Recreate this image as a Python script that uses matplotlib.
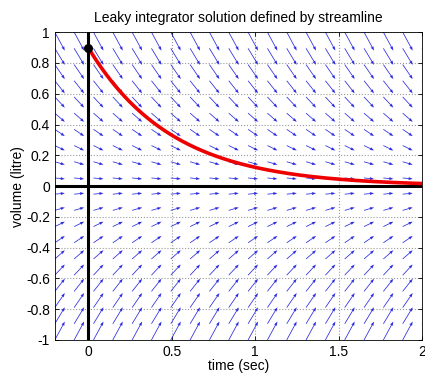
import matplotlib.pyplot as plt
import numpy as np

plt.rcParams["font.family"] = ["Liberation Sans", "DejaVu Sans"]

# leaky integrator dV/dt = -V / tau, started at V0
TAU = 0.5
V0 = 0.9
T_LIM = [-0.2, 2.0]
V_LIM = [-1.0, 1.0]
N_GRID = 20
X_TICKS = [0, 0.5, 1, 1.5, 2]
X_TICKLABELS = ["0", "0.5", "1", "1.5", "2"]
Y_TICKS = [-1, -0.8, -0.6, -0.4, -0.2, 0, 0.2, 0.4, 0.6, 0.8, 1]
Y_TICKLABELS = ["-1", "-0.8", "-0.6", "-0.4", "-0.2", "0", "0.2", "0.4", "0.6", "0.8", "1"]


def main() -> None:
    # direction field
    tg, vg = np.meshgrid(np.linspace(*T_LIM, N_GRID), np.linspace(*V_LIM, N_GRID))
    u = np.ones_like(tg)
    v = -vg / TAU

    # matlab-style autoscale: longest arrow = 0.9 of a grid cell diagonal
    delx = (T_LIM[1] - T_LIM[0]) / N_GRID
    dely = (V_LIM[1] - V_LIM[0]) / N_GRID
    maxlen = np.sqrt((u**2 + v**2) / (delx**2 + dely**2)).max()
    s = 0.9 / maxlen

    # the solution curve
    t = np.linspace(0, 2, 300)
    vt = V0 * np.exp(-t / TAU)

    fig = plt.figure(figsize=(4.25, 3.74), dpi=100)
    ax = fig.add_axes([0.129, 0.091, 0.864, 0.823])

    ax.quiver(tg, vg, u * s, v * s, angles="xy", scale_units="xy", scale=1,
              color="#2a2ae0", width=0.0021, headwidth=4, headlength=5.5,
              headaxislength=5, zorder=2)

    ax.axvline(0, color="black", linewidth=2.2, zorder=3)
    ax.axhline(0, color="black", linewidth=2.2, zorder=3)
    ax.plot(t, vt, color="#ee0000", linewidth=2.6, zorder=4)
    ax.plot([0], [V0], "o", color="black", markersize=5.5, zorder=5)

    ax.set_xlim(T_LIM)
    ax.set_ylim(V_LIM)
    ax.set_xticks(X_TICKS)
    ax.set_xticklabels(X_TICKLABELS)
    ax.set_yticks(Y_TICKS)
    ax.set_yticklabels(Y_TICKLABELS)
    ax.tick_params(direction="in", length=3, labelsize=10, width=0.6, top=True, right=True)
    ax.grid(True, linestyle=":", color="#999999", linewidth=0.8)
    for sp in ax.spines.values():
        sp.set_linewidth(0.6)

    ax.set_title("Leaky integrator solution defined by streamline", fontsize=10, pad=7)
    ax.set_xlabel("time (sec)", fontsize=10, labelpad=0)
    ax.set_ylabel("volume (litre)", fontsize=10, labelpad=1)

    fig.savefig("out.png", dpi=100)
    plt.close(fig)


if __name__ == "__main__":
    main()
